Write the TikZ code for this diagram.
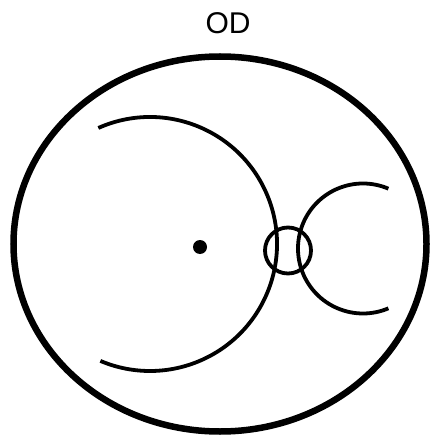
\documentclass[tikz,border=0pt]{standalone}
\usepackage{fontspec}
\setmainfont{Liberation Sans}
\begin{document}
\begin{tikzpicture}[x=1pt,y=-1pt,
  outer/.style={line width=6.5pt},
  inner/.style={line width=3.8pt,line cap=butt}]
\useasboundingbox (0,0) rectangle (432,438);
\node (label) at (228,23.5) {\fontsize{30}{32}\selectfont OD};
\draw[outer] (220,244) ellipse [x radius=206.5, y radius=187.5];
% large arc, centre (150,244), r=127
\draw[inner] (150,244) ++(-114:127) arc[start angle=-114, end angle=113, radius=127];
% dot
\fill (200,247) circle[radius=7];
% small circle
\draw[inner] (288,250.5) circle[radius=23];
% right arc, centre (363,248.5), r=65
\draw[inner] (363,248.5) ++(-67:65) arc[start angle=-67, end angle=-293, radius=65];
\end{tikzpicture}
\end{document}
